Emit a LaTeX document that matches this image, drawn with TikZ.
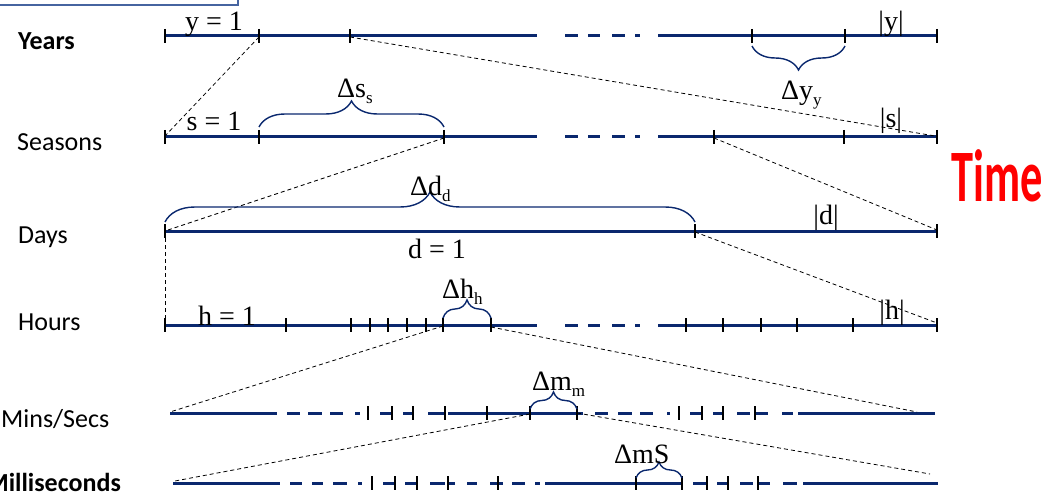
\documentclass[tikz,border=0pt]{standalone}
\usepackage{fontspec}
\setmainfont{Liberation Serif}
\newfontfamily\lab{Carlito}
\usetikzlibrary{decorations.pathreplacing}

\definecolor{navy}{RGB}{10,40,110}
\definecolor{boxblue}{RGB}{70,100,160}

\tikzset{
  axis/.style={line width=3pt, draw=navy},
  tickmark/.style={line width=2pt, draw=black},
  link/.style={draw=black, line width=0.8pt, dash pattern=on 4pt off 3pt},
  brc/.style={decorate, decoration={brace, amplitude=#1}, draw=navy, line width=1.4pt},
  val/.style={font=\fontsize{28}{32}\selectfont, inner sep=0pt, anchor=base},
  valw/.style={val, anchor=base west},
  rowlab/.style={font=\lab\fontsize{26}{30}\selectfont, inner sep=0pt, anchor=base west},
}

% axis pieces and tick marks along one row
\newcommand\segs[2]{\foreach \a/\b in {#2} \draw[axis] (\a,#1) -- (\b,#1);}
\newcommand\ticks[2]{\foreach \t in {#2} \draw[tickmark] (\t,#1-7) -- (\t,#1+7);}
\newcommand\sbx[1]{\raisebox{-6pt}{\fontsize{17}{19}\selectfont #1}}

\begin{document}
\begin{tikzpicture}[x=1pt,y=-1pt]
\useasboundingbox (0,0) rectangle (1050,492);
\clip (0,0) rectangle (1050,492);

% frame cut by the top edge
\draw[draw=boxblue, line width=2pt] (-20,-30) rectangle (238,5);

% row labels
\node[rowlab, font=\lab\bfseries\fontsize{26}{30}\selectfont] (lyears) at (18,50) {Years};
\node[rowlab] (lseasons) at (17,150) {Seasons};
\node[rowlab] (ldays) at (18,243) {Days};
\node[rowlab] (lhours) at (18,330) {Hours};
\node[rowlab] (lmins) at (1,427) {Mins/Secs};
\node[rowlab, anchor=base east, font=\lab\bfseries\fontsize{26}{30}\selectfont] (lms) at (121,491) {Milliseconds};

\node[inner sep=0pt, text=red, font=\lab\bfseries\fontsize{74}{80}\selectfont] (time) at (997,176) {\scalebox{0.6}[1]{Time}};

% Years
\segs{36}{165/537,565/578,588/600,612/625,635/640,658/937}
\ticks{36}{165,259,350,752,845,937}
% Seasons
\segs{137}{165/537,565/578,588/600,612/625,635/640,658/937}
\ticks{137}{165,259,444,714,844,937}
% Days
\segs{231}{165/937}
\ticks{231}{165,695,937}
% Hours
\segs{325}{165/537,565/578,588/600,612/625,635/640,658/937}
\ticks{325}{165,286,351,370,388,407,426,443,491,686,723,761,797,853,937}
% Mins/Secs
\segs{413}{170/277,287/300,308/322,330/343,355/360,380/392,403/413,428/445,448/583,595/608,618/632,640/653,667/670,690/702,713/723,737/750,755/768,782/793,798/935}
\ticks{413}{368,392,413,445,487,530,577,679,702,723,755}
% Milliseconds
\segs{483}{173/280,290/302,312/323,333/347,358/362,383/395,405/417,430/445,448/455,467/477,490/503,512/525,535/540,545/682,693/707,717/728,740/753,758/770,783/797,803/938}
\ticks{483}{372,395,417,448,498,636,682,707,728,758}

% named points used by the zoom lines
\coordinate (Y2) at (259,37);
\coordinate (Y3) at (350,37);
\coordinate (S0) at (165,136);
\coordinate (SE) at (935,136);
\coordinate (S3) at (444,138);
\coordinate (S4) at (714,138);
\coordinate (D0) at (165,231);
\coordinate (D1) at (695,232);
\coordinate (DE) at (937,230);
\coordinate (H0) at (165,324);
\coordinate (H7) at (443,326);
\coordinate (H8) at (491,327);
\coordinate (HE) at (937,323);
\coordinate (M0) at (170,412);
\coordinate (MA) at (530,414);
\coordinate (MB) at (577,413);
\coordinate (ME) at (917,412);
\coordinate (L0) at (175,481);
\coordinate (LE) at (930,474);

\draw[link] (Y2) -- (S0);
\draw[link] (Y3) -- (SE);
\draw[link] (S3) -- (D0);
\draw[link] (S4) -- (DE);
\draw[link] (D0) -- (H0);
\draw[link] (D1) -- (HE);
\draw[link] (H7) -- (M0);
\draw[link] (H8) -- (ME);
\draw[link] (MA) -- (L0);
\draw[link] (MB) -- (LE);

% braces
\draw[brc=24] (845,46) -- (752,46);
\draw[brc=26] (259,127) -- (444,127);
\draw[brc=30] (165,222) -- (695,222);
\draw[brc=18] (443,318) -- (491,318);
\draw[brc=17] (530,409) -- (577,409);
\draw[brc=16] (636,478) -- (682,478);

% values
\node[val] (y1) at (214,31) {y = 1};
\node[val] (ylen) at (891,31) {|y|};
\node[valw] (dy) at (781,100) {Δy\sbx{y}};
\node[val] (s1) at (214,131) {s = 1};
\node[valw] (ds) at (337,98) {Δs\sbx{s}};
\node[val] (slen) at (891,128) {|s|};
\node[valw] (dd) at (410,195) {Δd\sbx{d}};
\node[val] (dlen) at (826,224) {|d|};
\node[val] (d1) at (437,258) {d = 1};
\node[val] (h1) at (227,325) {h = 1};
\node[valw] (dh) at (442,298) {Δh\sbx{h}};
\node[val] (hlen) at (892,319) {|h|};
\node[valw] (dm) at (532,390) {Δm\sbx{m}};
\node[valw] (dms) at (614,463) {ΔmS};
\end{tikzpicture}
\end{document}
